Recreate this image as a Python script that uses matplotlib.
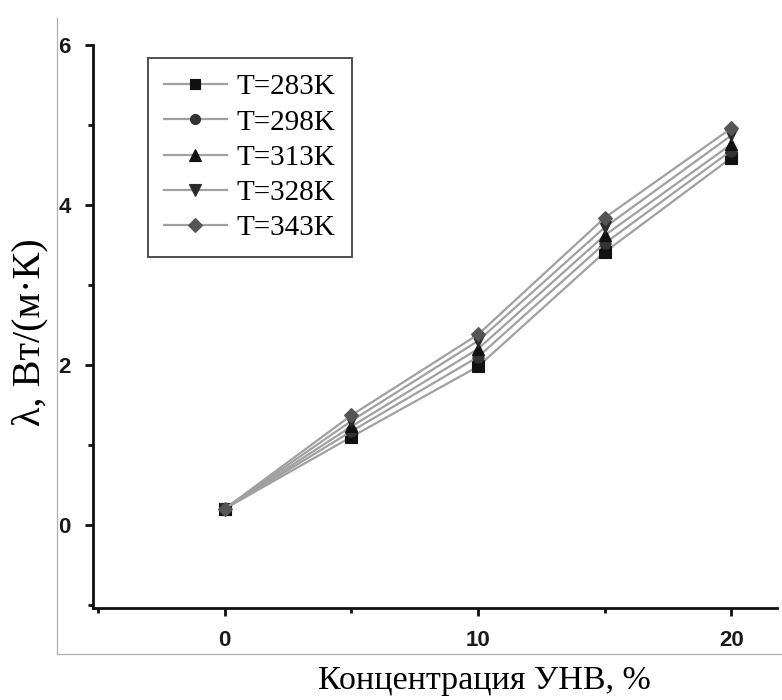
import matplotlib
matplotlib.use("Agg")
import matplotlib.pyplot as plt
from matplotlib.lines import Line2D
from matplotlib.ticker import MultipleLocator

# Thermal conductivity vs. carbon nanofiber concentration
concentration = [0, 5, 10, 15, 20]
temperatures = ["T=283K", "T=298K", "T=313K", "T=328K", "T=343K"]
lam_283 = [0.20, 1.10, 1.98, 3.41, 4.59]
lam_298 = [0.20, 1.17, 2.10, 3.52, 4.68]
lam_313 = [0.20, 1.23, 2.20, 3.62, 4.76]
lam_328 = [0.20, 1.30, 2.30, 3.72, 4.87]
lam_343 = [0.20, 1.37, 2.38, 3.84, 4.96]
series = [lam_283, lam_298, lam_313, lam_328, lam_343]

markers = ["s", "o", "^", "v", "D"]
marker_colors = ["#111111", "#333333", "#111111", "#2a2a2a", "#555555"]
marker_sizes = [8, 8, 9, 9, 7.5]

fig = plt.figure(figsize=(7.82, 7.0), dpi=100)
ax = fig.add_axes([93 / 782, 1 - 608 / 700, (777 - 93) / 782, (608 - 45) / 700])

for vals, lab, mk, mc, ms in zip(series, temperatures, markers, marker_colors, marker_sizes):
    ax.plot(concentration, vals, color="#a0a0a0", lw=1.6, marker=mk,
            markersize=ms, markerfacecolor=mc, markeredgecolor=mc,
            markeredgewidth=0.8, label=lab, zorder=3)

ax.set_xlim(-5.2, 21.8)
ax.set_ylim(-1.04, 6.0)
ax.xaxis.set_major_locator(MultipleLocator(10))
ax.xaxis.set_minor_locator(MultipleLocator(5))
ax.yaxis.set_major_locator(MultipleLocator(2))
ax.yaxis.set_minor_locator(MultipleLocator(1))

for side in ("top", "right"):
    ax.spines[side].set_visible(False)
for side in ("left", "bottom"):
    ax.spines[side].set_linewidth(2.0)
    ax.spines[side].set_color("#111111")

ax.tick_params(which="major", direction="out", length=6, width=2.0,
               color="#111111", labelsize=16, labelcolor="#1a1a1a", pad=10)
ax.tick_params(which="minor", direction="out", length=3.5, width=2.0,
               color="#111111")
for lbl in ax.get_xticklabels() + ax.get_yticklabels():
    lbl.set_fontweight("bold")
    lbl.set_family("Liberation Sans")

serif = "Liberation Serif"
fig.text(484 / 782, 1 - 681 / 700, "Концентрация УНВ, %", family=serif,
         fontsize=24.5, ha="center", va="center")
fig.text(30 / 782, 1 - 332 / 700, "λ, Вт/(м·К)", family=serif,
         fontsize=29, ha="center", va="center", rotation=90)

leg = ax.legend(loc="upper left", bbox_to_anchor=(148 / 782, 1 - 58 / 700),
                bbox_transform=fig.transFigure, borderaxespad=0,
                prop={"family": serif, "size": 21}, frameon=True,
                fancybox=False, edgecolor="#222222", handlelength=2.15,
                handletextpad=0.35, labelspacing=0.3, borderpad=0.55,
                markerscale=0.9)
leg.get_frame().set_linewidth(1.4)

# Thin grey frame along the left and bottom of the figure
fig.add_artist(Line2D([57 / 782, 57 / 782], [1 - 18 / 700, 1 - 654 / 700],
                      color="#b0b0b0", lw=0.9, transform=fig.transFigure))
fig.add_artist(Line2D([57 / 782, 1.0], [1 - 654 / 700, 1 - 654 / 700],
                      color="#b0b0b0", lw=0.9, transform=fig.transFigure))

fig.savefig("out.png", dpi=100)
